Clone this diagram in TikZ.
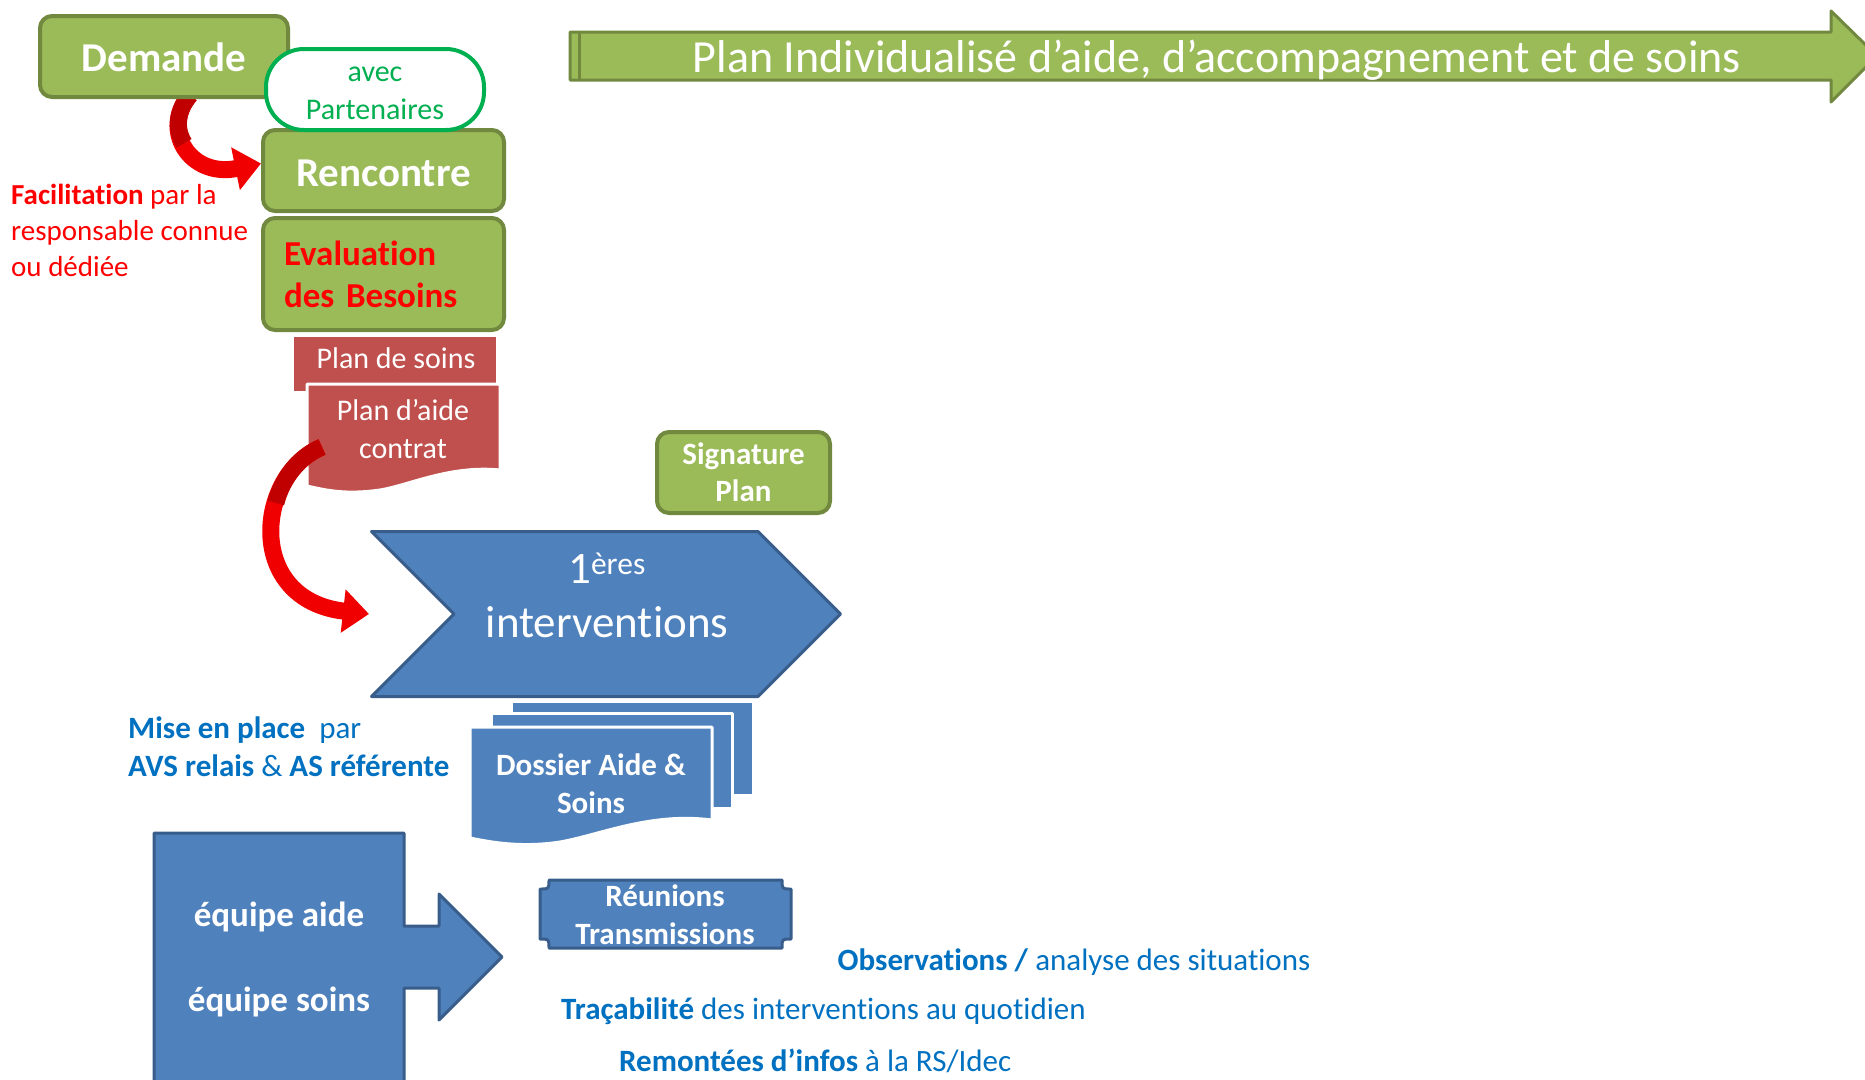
\documentclass[tikz,border=0pt]{standalone}
\usepackage{fontspec}
\setmainfont{Carlito}[Ligatures={TeX,NoCommon}]
\usetikzlibrary{arrows.meta,shapes.symbols}
\definecolor{grn}{HTML}{9BBB59}
\definecolor{grnline}{HTML}{71893F}
\definecolor{partner}{HTML}{00B050}
\definecolor{docred}{HTML}{C0504D}
\definecolor{blu}{HTML}{4F81BD}
\definecolor{bluline}{HTML}{385D8A}
\definecolor{txtblue}{HTML}{0070C0}
\definecolor{arrred}{HTML}{F00000}
\definecolor{arrdark}{HTML}{C00000}
\newcommand\sz[2]{\fontsize{#1}{#2}\selectfont}
\newcommand\bas[2]{\raisebox{-#1}[\height][\depth]{#2}}
\begin{document}
\begin{tikzpicture}[x=1pt,y=-1pt,line join=round,
	greenbox/.style={draw=grnline,fill=grn,line width=4pt,rounded corners=12pt,text=white,inner sep=0pt},
	docbox/.style={draw=white,line width=3pt},
	bluebox/.style={draw=bluline,fill=blu,line width=3pt},
	curvedarr/.style={draw=arrred,line width=17pt,-{Triangle[length=26pt,width=42pt]}},
	darkpart/.style={draw=arrdark,line width=17pt},
	blanc/.style={text=white,inner sep=0pt,align=center},
	note/.style={anchor=west,inner sep=0pt,align=left,text=txtblue,font=\sz{31}{38}}]
	\useasboundingbox (0,0) rectangle (1865,1079);
	\draw[fill=grn,draw=grnline,line width=3pt] (570,32)--(1831,32)--(1831,11)--(1877,56)--(1831,102)--(1831,80)--(570,80)--cycle;
	\draw[grnline,line width=3pt] (579,32)--(579,80);
	\node[blanc,font=\sz{46}{54}] (titre) at (1217,60) {Plan Individualisé d’aide, d’accompagnement et de soins};
	\node[greenbox,minimum width=241pt,minimum height=81pt,font=\bfseries\sz{41}{50}] (rencontre) at (383.5,170.5) {\bas{2.5pt}{Rencontre}};
	\node[greenbox,minimum width=241pt,minimum height=112pt,text=red,text width=199pt,align=left,font=\bfseries\sz{35}{42}] (evaluation) at (383.5,274) {Evaluation\\des Besoins};
	\coordinate (depart) at (190,95);
	\draw[curvedarr] (depart) .. controls (160,130) and (190,178) .. ([yshift=7pt]rencontre.west);
	\draw[darkpart] (depart) .. controls (176.5,110.75) and (175.15,129.13) .. (184.2,143.3);
	\node[greenbox,minimum width=248pt,minimum height=81pt,font=\bfseries\sz{41}{50}] (demande) at (164,56.5) {\bas{1pt}{Demande}};
	\node[draw=partner,fill=white,line width=4pt,rounded corners=38pt,minimum width=218pt,minimum height=81pt,text=partner,align=center,inner sep=0pt,font=\sz{30}{38}] (partenaires) at (375,89.5) {\bas{3.5pt}{avec}\\\bas{3.5pt}{Partenaires}};
	\node[anchor=west,inner sep=0pt,align=left,text=red,font=\sz{29}{36}] (facil) at (11,230) {\textbf{Facilitation} par la\\responsable connue\\ou dédiée};
	\draw[docbox,fill=docred] (292,335)--(497,335)--(497,392)--(292,392)--cycle;
	\draw[docbox,fill=docred] (307,384)--(500,384)--(500,470) .. controls (450,465) and (410,485) .. (380,490) .. controls (345,495) and (325,490) .. (307,486)--cycle;
	\node[blanc,font=\sz{30}{38}] (plansoins) at (396,358) {Plan de soins};
	\node[blanc,font=\sz{30}{38}] (plandaide) at (403,429) {Plan d’aide\\contrat};
	\node[greenbox,minimum width=173pt,minimum height=81pt,align=center,font=\bfseries\sz{31}{37}] (signature) at (743.5,472.5) {Signature\\Plan};
	\node[bluebox,signal,signal to=east,signal from=west,signal pointer angle=90,minimum width=469pt,minimum height=165pt,inner sep=0pt] (interv) at (606,614) {};
	\node[blanc,font=\sz{45}{54}] (intertxt) at (607,595) {1\textsuperscript{ères}\\interventions};
	\coordinate (aidedep) at (322,447);
	\coordinate (interventree) at (369,614);
	\draw[curvedarr] (aidedep) .. controls (255,475) and (245,600) .. (interventree);
	\draw[darkpart] (aidedep) .. controls (298.6,456.8) and (282.1,478.5) .. (275.9,503);
	\draw[docbox,fill=blu] (511,701)--(753,701)--(753,795)--(511,795)--cycle;
	\draw[docbox,fill=blu] (491,713)--(732,713)--(732,808)--(491,808)--cycle;
	\draw[docbox,fill=blu] (470,727)--(712,727)--(712,820) .. controls (650,812) and (600,835) .. (560,842) .. controls (520,848) and (490,842) .. (470,838)--cycle;
	\node[blanc,font=\bfseries\sz{31}{38}] (dossier) at (591,784) {Dossier Aide \&\\Soins};
	\node[note] (miseplace) at (128,746.5) {\textbf{Mise en place}\ \ par\\\textbf{AVS relais} \& \textbf{AS référente}};
	\draw[bluebox] (154,833)--(404,833)--(404,926)--(439,926)--(439,894)--(502,957)--(439,1020)--(439,988)--(404,988)--(404,1090)--(154,1090)--cycle;
	\node[blanc,font=\bfseries\sz{35}{42}] (eqaide) at (279,917) {équipe aide};
	\node[blanc,font=\bfseries\sz{35}{42}] (eqsoins) at (279,1002) {équipe soins};
	\draw[bluebox] (549,880)--(782,880) .. controls (782,889) .. (791,889)--(791,939) .. controls (782,939) .. (782,948)--(549,948) .. controls (549,939) .. (540,939)--(540,889) .. controls (549,889) .. (549,880)--cycle;
	\node[blanc,font=\bfseries\sz{31}{38}] (reunions) at (665,915) {Réunions\\Transmissions};
	\node[note] (obs) at (837.5,962) {\textbf{Observations /} analyse des situations};
	\node[note] (traca) at (561,1011) {\textbf{Traçabilité} des interventions au quotidien};
	\node[note] (remont) at (619,1061) {\textbf{Remontées d’infos} à la RS/Idec};
\end{tikzpicture}
\end{document}
